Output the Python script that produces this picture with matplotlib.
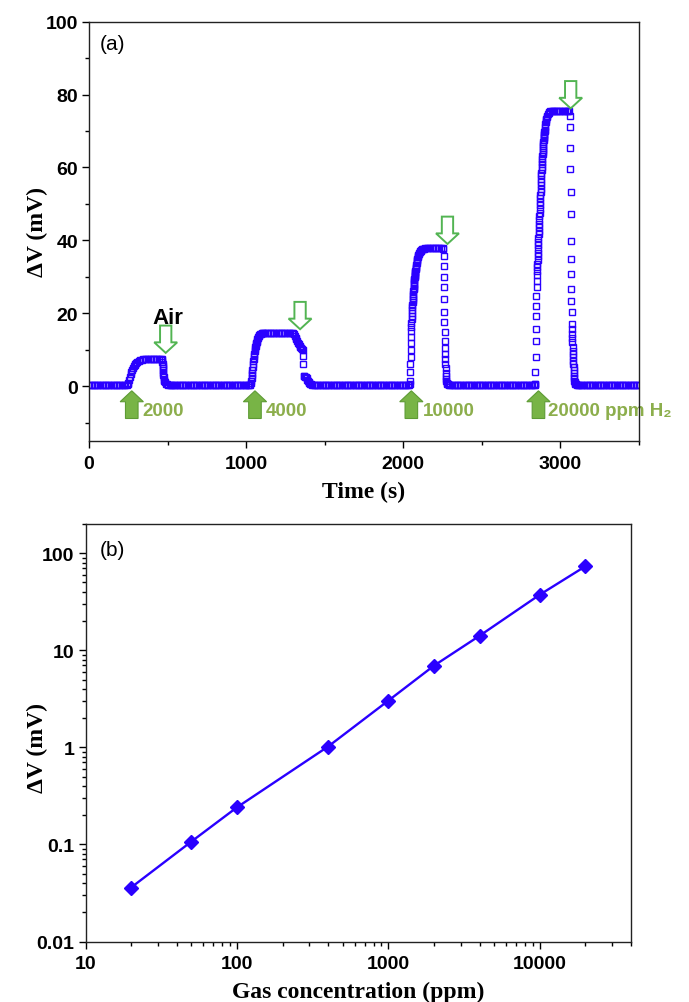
import matplotlib
matplotlib.use('Agg')
import matplotlib.pyplot as plt
from matplotlib.patches import FancyArrow
from matplotlib.ticker import MultipleLocator, NullFormatter, LogLocator

plt.rcParams['font.family'] = ['Liberation Sans', 'DejaVu Sans']
plt.rcParams['font.weight'] = 'bold'

# ---------------- panel (a): sensor response vs time ----------------
# baseline stretches (time in s, dV in mV)
t_base1 = [0, 10, 20, 30, 40, 50, 60, 70, 80, 90, 100, 110, 120, 130, 140, 150,
           160, 170, 180, 190, 200, 210, 220, 230]
v_base1 = [0.3, 0.3, 0.3, 0.3, 0.3, 0.3, 0.3, 0.3, 0.3, 0.3, 0.3, 0.3, 0.3, 0.3,
           0.3, 0.3, 0.3, 0.3, 0.3, 0.3, 0.3, 0.3, 0.3, 0.3]

# 2000 ppm pulse
t_p1 = [240, 245, 250, 255, 260, 265, 270, 275, 280, 285, 290, 295, 300, 307, 315,
        325, 335, 346, 355, 365, 375, 385, 395, 405, 415, 425, 435, 445, 455, 462,
        466, 467, 468, 469, 470, 471, 472, 473, 475, 477, 480, 484, 490, 497, 505, 513]
v_p1 = [0.35, 0.5, 0.9, 1.6, 2.5, 3.3, 3.9, 4.5, 5.0, 5.4, 5.8, 6.1, 6.4, 6.6, 6.9,
        7.1, 7.2, 7.3, 7.3, 7.3, 7.3, 7.3, 7.3, 7.3, 7.3, 7.3, 7.3, 7.3, 7.3, 7.3,
        7.2, 6.7, 6.1, 5.5, 4.9, 4.3, 3.6, 3.0, 2.4, 1.8, 1.3, 1.0, 0.7, 0.5, 0.4, 0.35]

t_base2 = [520, 530, 540, 550, 560, 570, 580, 590, 600, 610, 620, 630, 640, 650, 660,
           670, 680, 690, 700, 710, 720, 730, 740, 750, 760, 770, 780, 790, 800, 810,
           820, 830, 840, 850, 860, 870, 880, 890, 900, 910, 920, 930, 940, 950, 960,
           970, 980, 990, 1000, 1010, 1020]
v_base2 = [0.3, 0.3, 0.3, 0.3, 0.3, 0.3, 0.3, 0.3, 0.3, 0.3, 0.3, 0.3, 0.3, 0.3, 0.3,
           0.3, 0.3, 0.3, 0.3, 0.3, 0.3, 0.3, 0.3, 0.3, 0.3, 0.3, 0.3, 0.3, 0.3, 0.3,
           0.3, 0.3, 0.3, 0.3, 0.3, 0.3, 0.3, 0.3, 0.3, 0.3, 0.3, 0.3, 0.3, 0.3, 0.3,
           0.3, 0.3, 0.3, 0.3, 0.3, 0.3]

# 4000 ppm pulse
t_p2 = [1025, 1028, 1031, 1034, 1036, 1038, 1040, 1042, 1044, 1046, 1048, 1050, 1052,
        1054, 1056, 1058, 1060, 1062, 1064, 1066, 1068, 1070, 1073, 1076, 1080, 1084,
        1088, 1093, 1098, 1104, 1110, 1120, 1130, 1140, 1150, 1160, 1170, 1180, 1190,
        1200, 1210, 1220, 1230, 1240, 1250, 1260, 1270, 1280, 1290, 1300,
        1305, 1310, 1315, 1320, 1325, 1330, 1335, 1340, 1345, 1350, 1355, 1360, 1363,
        1364, 1365, 1370, 1375, 1380, 1385, 1390, 1394, 1398, 1402, 1407, 1413, 1420]
v_p2 = [0.4, 0.8, 1.5, 2.2, 2.9, 3.6, 4.4, 5.2, 6.0, 6.8, 7.5, 8.2, 8.9,
        9.5, 10.1, 10.6, 11.1, 11.5, 11.9, 12.2, 12.5, 12.8, 13.1, 13.4, 13.7, 14.0,
        14.2, 14.4, 14.5, 14.6, 14.6, 14.6, 14.6, 14.6, 14.6, 14.6, 14.6, 14.6, 14.6,
        14.6, 14.6, 14.6, 14.6, 14.6, 14.6, 14.6, 14.6, 14.6, 14.5, 14.5,
        14.3, 13.8, 13.3, 12.8, 12.3, 11.9, 11.5, 11.1, 10.8, 10.5, 10.2, 9.9, 8.3,
        6.0, 2.8, 2.7, 2.6, 2.4, 2.1, 1.7, 1.3, 1.0, 0.8, 0.6, 0.45, 0.35]

t_base3 = [1430, 1440, 1450, 1460, 1470, 1480, 1490, 1500, 1510, 1520, 1530, 1540,
           1550, 1560, 1570, 1580, 1590, 1600, 1610, 1620, 1630, 1640, 1650, 1660,
           1670, 1680, 1690, 1700, 1710, 1720, 1730, 1740, 1750, 1760, 1770, 1780,
           1790, 1800, 1810, 1820, 1830, 1840, 1850, 1860, 1870, 1880, 1890, 1900,
           1910, 1920, 1930, 1940, 1950, 1960, 1970, 1980, 1990, 2000, 2010, 2020, 2030]
v_base3 = [0.3, 0.3, 0.3, 0.3, 0.3, 0.3, 0.3, 0.3, 0.3, 0.3, 0.3, 0.3,
           0.3, 0.3, 0.3, 0.3, 0.3, 0.3, 0.3, 0.3, 0.3, 0.3, 0.3, 0.3,
           0.3, 0.3, 0.3, 0.3, 0.3, 0.3, 0.3, 0.3, 0.3, 0.3, 0.3, 0.3,
           0.3, 0.3, 0.3, 0.3, 0.3, 0.3, 0.3, 0.3, 0.3, 0.3, 0.3, 0.3,
           0.3, 0.3, 0.3, 0.3, 0.3, 0.3, 0.3, 0.3, 0.3, 0.3, 0.3, 0.3, 0.3]

# 10000 ppm pulse
t_p3 = [2038, 2041, 2043, 2044, 2045, 2046, 2047, 2048, 2049, 2050, 2051, 2052, 2053,
        2054, 2055, 2056, 2057, 2058, 2059, 2060, 2061, 2062, 2063, 2064, 2065, 2066,
        2067, 2068, 2069, 2070, 2071, 2072, 2073, 2074, 2075, 2076, 2077, 2078, 2079,
        2080, 2082, 2084, 2086, 2088, 2090, 2092, 2094, 2096, 2098, 2100, 2103, 2106,
        2110, 2115, 2120, 2126, 2133, 2140, 2150, 2160, 2170, 2180, 2190, 2200, 2210,
        2220, 2230, 2240, 2250,
        2255, 2256, 2257, 2258, 2259, 2260, 2261, 2262, 2263, 2264, 2265, 2266, 2267,
        2268, 2269, 2270, 2271, 2272, 2273, 2275, 2278, 2282, 2287, 2293, 2300]
v_p3 = [0.35, 0.6, 1.5, 3.8, 6.0, 7.9, 9.9, 11.7, 13.5, 15.0, 16.3, 17.4, 18.4,
        19.3, 20.1, 20.9, 21.6, 22.3, 23.0, 23.6, 24.2, 24.8, 25.4, 26.0, 26.5, 27.0,
        27.5, 28.0, 28.5, 29.0, 29.4, 29.8, 30.2, 30.6, 31.0, 31.4, 31.7, 32.0, 32.3,
        32.6, 33.2, 33.7, 34.2, 34.6, 35.0, 35.4, 35.7, 36.0, 36.3, 36.5, 36.8, 37.0,
        37.2, 37.4, 37.5, 37.6, 37.7, 37.8, 37.8, 37.8, 37.8, 37.8, 37.8, 37.8, 37.8,
        37.8, 37.8, 37.8, 37.8,
        37.6, 35.8, 33.0, 30.0, 27.1, 23.9, 20.2, 17.5, 14.7, 12.4, 10.4, 8.8, 7.4,
        6.0, 4.9, 3.7, 2.8, 1.9, 1.3, 0.9, 0.7, 0.55, 0.45, 0.4, 0.35]

t_base4 = [2310, 2320, 2330, 2340, 2350, 2360, 2370, 2380, 2390, 2400, 2410, 2420,
           2430, 2440, 2450, 2460, 2470, 2480, 2490, 2500, 2510, 2520, 2530, 2540,
           2550, 2560, 2570, 2580, 2590, 2600, 2610, 2620, 2630, 2640, 2650, 2660,
           2670, 2680, 2690, 2700, 2710, 2720, 2730, 2740, 2750, 2760, 2770, 2780,
           2790, 2800, 2810, 2820, 2830]
v_base4 = [0.3, 0.3, 0.3, 0.3, 0.3, 0.3, 0.3, 0.3, 0.3, 0.3, 0.3, 0.3,
           0.3, 0.3, 0.3, 0.3, 0.3, 0.3, 0.3, 0.3, 0.3, 0.3, 0.3, 0.3,
           0.3, 0.3, 0.3, 0.3, 0.3, 0.3, 0.3, 0.3, 0.3, 0.3, 0.3, 0.3,
           0.3, 0.3, 0.3, 0.3, 0.3, 0.3, 0.3, 0.3, 0.3, 0.3, 0.3, 0.3,
           0.3, 0.3, 0.3, 0.3, 0.3]

# 20000 ppm pulse
t_p4 = [2835, 2838, 2840, 2841, 2842, 2843, 2844, 2845, 2846, 2847, 2848, 2849, 2850,
        2851, 2852, 2853, 2854, 2855, 2856, 2857, 2858, 2859, 2860, 2861, 2862, 2863,
        2864, 2865, 2866, 2867, 2868, 2869, 2870, 2871, 2872, 2873, 2874, 2875, 2876,
        2877, 2878, 2879, 2880, 2881, 2882, 2883, 2884, 2885, 2886, 2887, 2888, 2889,
        2890, 2891, 2892, 2893, 2894, 2895, 2896, 2897, 2898, 2899, 2900, 2902, 2904,
        2906, 2908, 2910, 2913, 2916, 2920, 2925, 2930, 2936, 2943, 2950, 2960, 2970,
        2980, 2990, 3000, 3010, 3020, 3030, 3040, 3050, 3056,
        3060, 3061, 3062, 3063, 3064, 3065, 3066, 3067, 3068, 3069, 3070, 3071, 3072,
        3073, 3074, 3075, 3076, 3077, 3078, 3079, 3080, 3081, 3082, 3083, 3084, 3085,
        3086, 3087, 3088, 3090, 3092, 3095, 3100, 3106, 3113]
v_p4 = [0.35, 0.5, 0.7, 3.8, 7.9, 12.4, 15.6, 19.3, 22.0, 24.8, 27.1, 28.9, 30.6,
        31.6, 32.6, 33.6, 34.6, 35.6, 36.6, 37.6, 38.6, 39.6, 40.6, 41.6, 42.6, 43.6,
        44.6, 45.6, 46.6, 47.6, 48.6, 49.6, 50.6, 51.5, 52.4, 53.3, 54.2, 55.1, 56.0,
        56.9, 57.8, 58.6, 59.4, 60.2, 60.9, 61.6, 62.3, 63.0, 63.6, 64.2, 64.8, 65.4,
        66.0, 66.5, 67.0, 67.5, 68.0, 68.4, 68.8, 69.2, 69.6, 70.0, 70.4, 71.1, 71.8,
        72.4, 72.9, 73.3, 73.8, 74.2, 74.6, 74.9, 75.2, 75.4, 75.5, 75.6, 75.6, 75.6,
        75.6, 75.6, 75.6, 75.6, 75.6, 75.6, 75.6, 75.6, 75.5,
        74.2, 71.2, 65.3, 59.6, 53.2, 47.2, 39.9, 34.9, 30.7, 26.6, 23.4, 20.2, 17.0,
        15.6, 14.3, 13.1, 12.0, 10.8, 9.7, 8.8, 7.9, 6.9, 6.0, 5.2, 4.4, 3.6,
        2.8, 2.1, 1.5, 1.1, 0.8, 0.6, 0.5, 0.4, 0.35]

t_base5 = [3120, 3130, 3140, 3150, 3160, 3170, 3180, 3190, 3200, 3210, 3220, 3230,
           3240, 3250, 3260, 3270, 3280, 3290, 3300, 3310, 3320, 3330, 3340, 3350,
           3360, 3370, 3380, 3390, 3400, 3410, 3420, 3430, 3440, 3450, 3460, 3470,
           3480, 3490, 3500]
v_base5 = [0.3, 0.3, 0.3, 0.3, 0.3, 0.3, 0.3, 0.3, 0.3, 0.3, 0.3, 0.3,
           0.3, 0.3, 0.3, 0.3, 0.3, 0.3, 0.3, 0.3, 0.3, 0.3, 0.3, 0.3,
           0.3, 0.3, 0.3, 0.3, 0.3, 0.3, 0.3, 0.3, 0.3, 0.3, 0.3, 0.3,
           0.3, 0.3, 0.3]

# gas on / gas off marks
gas_on_t = [272, 1056, 2051, 2860]
gas_labels = ['2000', '4000', '10000', '20000 ppm H\u2082']
gas_label_t = [342, 1126, 2124, 2923]
gas_off_t = [488, 1343, 2281, 3065]
gas_off_tip = [9.1, 15.6, 39.0, 76.2]

# ---------------- panel (b): response vs concentration ----------------
conc_ppm = [20, 50, 100, 400, 1000, 2000, 4000, 10000, 20000]
resp_mv = [0.036, 0.107, 0.241, 1.02, 3.03, 6.94, 14.1, 37.4, 73.3]
yticks_b = [0.01, 0.1, 1, 10, 100]
ytick_labels_b = ['0.01', '0.1', '1', '10', '100']
xticks_b = [10, 100, 1000, 10000]
xtick_labels_b = ['10', '100', '1000', '10000']

blue = '#2a00ff'
green_fill = '#78b446'
green_edge = '#5d9b34'
green_text = '#8cae4c'
green_open = '#52b452'

fig = plt.figure(figsize=(6.89, 10.03), dpi=100)
ax1 = fig.add_axes([0.1292, 0.5596, 0.7983, 0.4178])
ax2 = fig.add_axes([0.1241, 0.0603, 0.7917, 0.4163])

t_all = t_base1 + t_p1 + t_base2 + t_p2 + t_base3 + t_p3 + t_base4 + t_p4 + t_base5
v_all = v_base1 + v_p1 + v_base2 + v_p2 + v_base3 + v_p3 + v_base4 + v_p4 + v_base5
ax1.plot(t_all, v_all, ls='none', marker='s', ms=4.8, mfc='none', mec=blue, mew=1.0)

ax1.set_xlim(0, 3500)
ax1.set_ylim(-15, 100)
ax1.xaxis.set_major_locator(MultipleLocator(1000))
ax1.xaxis.set_minor_locator(MultipleLocator(500))
ax1.yaxis.set_major_locator(MultipleLocator(20))
ax1.yaxis.set_minor_locator(MultipleLocator(10))
ax1.set_yticks([0, 20, 40, 60, 80, 100])

# arrows: up (gas in) filled, down (air) hollow
for t0, lab, tl in zip(gas_on_t, gas_labels, gas_label_t):
    ax1.add_patch(FancyArrow(t0, -8.9, 0, 7.6, width=80, head_width=148, head_length=3.0,
                             length_includes_head=True, fc=green_fill, ec=green_edge,
                             lw=0.8, zorder=4, clip_on=False))
    ax1.text(tl, -6.6, lab, color=green_text, fontsize=13.5, fontweight='bold',
             ha='left', va='center', zorder=1)
for t0, tip in zip(gas_off_t, gas_off_tip):
    ax1.add_patch(FancyArrow(t0, tip + 7.5, 0, -7.5, width=72, head_width=146,
                             head_length=2.9, length_includes_head=True, fc='white',
                             ec=green_open, lw=1.4, zorder=4))
ax1.text(502, 18.9, 'Air', color='black', fontsize=16, fontweight='bold',
         ha='center', va='center')
ax1.text(0.02, 0.947, '(a)', transform=ax1.transAxes, fontsize=15, fontweight='normal',
         ha='left', va='center')

ax1.set_xlabel('Time (s)', family='Liberation Serif', fontsize=17, fontweight='bold')
ax1.set_ylabel('\u0394V (mV)', family='Liberation Serif', fontsize=17, fontweight='bold')
ax1.xaxis.set_label_coords(0.5, -0.095)
ax1.yaxis.set_label_coords(-0.074, 0.5)

# panel (b)
ax2.plot(conc_ppm, resp_mv, color=blue, lw=1.7, marker='D', ms=7.5, mfc=blue, mec=blue)
ax2.set_xscale('log')
ax2.set_yscale('log')
ax2.set_xlim(10, 40000)
ax2.set_ylim(0.01, 200)
ax2.set_xticks(xticks_b, xtick_labels_b)
ax2.set_yticks(yticks_b, ytick_labels_b)
ax2.xaxis.set_minor_locator(LogLocator(base=10, subs=range(2, 10)))
ax2.yaxis.set_minor_locator(LogLocator(base=10, subs=range(2, 10)))
ax2.xaxis.set_minor_formatter(NullFormatter())
ax2.yaxis.set_minor_formatter(NullFormatter())
ax2.text(0.027, 0.938, '(b)', transform=ax2.transAxes, fontsize=15, fontweight='normal',
         ha='left', va='center')
ax2.set_xlabel('Gas concentration (ppm)', family='Liberation Serif', fontsize=17,
               fontweight='bold')
ax2.set_ylabel('\u0394V (mV)', family='Liberation Serif', fontsize=17, fontweight='bold')
ax2.xaxis.set_label_coords(0.5, -0.094)
ax2.yaxis.set_label_coords(-0.068, 0.467)

for ax in (ax1, ax2):
    for sp in ax.spines.values():
        sp.set_linewidth(1.0)
        sp.set_color('#222222')
    ax.tick_params(which='major', direction='out', length=5, width=1.0, labelsize=14,
                   pad=3, top=False, right=False)
    ax.tick_params(which='minor', direction='out', length=3, width=1.0,
                   top=False, right=False)
    ax.tick_params(axis='x', which='major', pad=5)
    for lbl in ax.get_xticklabels() + ax.get_yticklabels():
        lbl.set_fontweight('bold')

fig.savefig('out.png', dpi=100)
